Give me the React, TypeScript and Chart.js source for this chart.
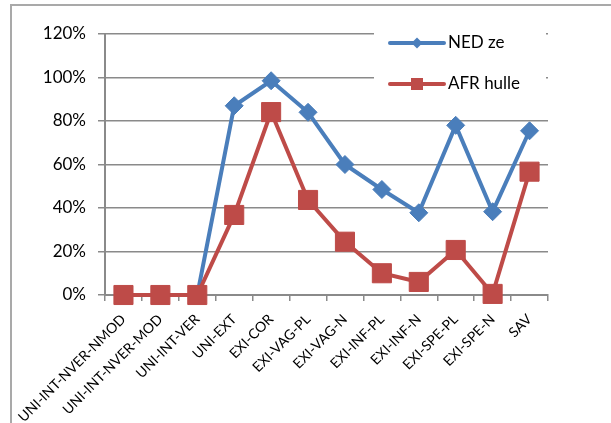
import React, { useEffect, useRef } from "react";
import { Chart, registerables } from "chart.js";

Chart.register(...registerables);

const categories = [
  "UNI-INT-NVER-NMOD",
  "UNI-INT-NVER-MOD",
  "UNI-INT-VER",
  "UNI-EXT",
  "EXI-COR",
  "EXI-VAG-PL",
  "EXI-VAG-N",
  "EXI-INF-PL",
  "EXI-INF-N",
  "EXI-SPE-PL",
  "EXI-SPE-N",
  "SAV",
];
const nedZe = [0, 0, 0, 0.87, 0.985, 0.84, 0.6, 0.485, 0.378, 0.78, 0.383, 0.755];
const afrHulle = [0, 0, 0, 0.368, 0.841, 0.437, 0.245, 0.1, 0.06, 0.207, 0.005, 0.567];
const seriesNames = ["NED ze", "AFR hulle"];
const yTicks = [0, 0.2, 0.4, 0.6, 0.8, 1.0, 1.2];

const BLUE = "#4A7EBB";
const RED = "#BE4B48";
const GRID = "#8a8a8a";
const FONT = "Lato";

const framePlugin = {
  id: "frame",
  beforeDraw(chart: any) {
    const ctx = chart.ctx;
    ctx.save();
    ctx.fillStyle = "#ffffff";
    ctx.fillRect(0, 0, chart.width, chart.height);
    ctx.strokeStyle = "#a9a9a9";
    ctx.lineWidth = 2;
    ctx.beginPath();
    ctx.moveTo(11, chart.height + 2);
    ctx.lineTo(11, 5);
    ctx.lineTo(chart.width + 2, 5);
    ctx.stroke();
    ctx.restore();
  },
};

const legendPlugin = {
  id: "customLegend",
  afterDraw(chart: any) {
    const ctx = chart.ctx;
    const x0 = 374;
    const y0 = 22;
    ctx.save();
    ctx.fillStyle = "#ffffff";
    ctx.fillRect(x0, y0, 172, 82);
    const items = [
      { ds: chart.data.datasets[0], y: 43 },
      { ds: chart.data.datasets[1], y: 84 },
    ];
    items.forEach((it, i) => {
      const color = it.ds.borderColor;
      ctx.strokeStyle = color;
      ctx.lineWidth = 4;
      ctx.lineCap = "round";
      ctx.beginPath();
      ctx.moveTo(390, it.y);
      ctx.lineTo(444, it.y);
      ctx.stroke();
      ctx.fillStyle = color;
      ctx.beginPath();
      if (i === 0) {
        const r = 5.5;
        ctx.moveTo(417 - r, it.y);
        ctx.lineTo(417, it.y - r);
        ctx.lineTo(417 + r, it.y);
        ctx.lineTo(417, it.y + r);
        ctx.closePath();
      } else {
        ctx.rect(417 - 6, it.y - 6, 12, 12);
      }
      ctx.fill();
      ctx.fillStyle = "#000000";
      ctx.font = `17px ${FONT}`;
      ctx.textAlign = "left";
      ctx.textBaseline = "middle";
      ctx.fillText(it.ds.label, 448, it.y);
    });
    ctx.restore();
  },
};

export default function App() {
  const ref = useRef<HTMLCanvasElement | null>(null);

  useEffect(() => {
    document.body.style.margin = "0";
    const canvas = ref.current;
    if (!canvas) return;
    const chart = new Chart(canvas, {
      type: "line",
      data: {
        labels: categories,
        datasets: [
          {
            label: seriesNames[0],
            data: nedZe,
            borderColor: BLUE,
            backgroundColor: BLUE,
            borderWidth: 4,
            pointStyle: "rectRot",
            pointRadius: 9,
            pointBorderWidth: 1,
            pointBackgroundColor: BLUE,
            pointBorderColor: BLUE,
            tension: 0,
            clip: false as any,
            order: 2,
          },
          {
            label: seriesNames[1],
            data: afrHulle,
            borderColor: RED,
            backgroundColor: RED,
            borderWidth: 4,
            pointStyle: "rect",
            pointRadius: 13.5,
            pointBorderWidth: 1,
            pointBackgroundColor: RED,
            pointBorderColor: RED,
            tension: 0,
            clip: false as any,
            order: 1,
          },
        ],
      },
      options: {
        responsive: false,
        animation: false,
        devicePixelRatio: 1,
        layout: { padding: { left: 0, right: 63, top: 34, bottom: 0 } },
        plugins: {
          legend: { display: false },
          tooltip: { enabled: false },
        },
        scales: {
          x: {
            offset: true,
            grid: {
              offset: true,
              drawOnChartArea: false,
              drawTicks: true,
              tickLength: 6,
              color: GRID,
              lineWidth: 1.5,
            },
            border: { color: GRID, width: 2 },
            ticks: {
              autoSkip: false,
              maxRotation: 45,
              minRotation: 45,
              padding: 10,
              color: "#000000",
              font: { family: FONT, size: 14 },
            },
            afterFit(s: any) {
              s.height = 128;
              s.paddingLeft = 0;
              s.paddingRight = 0;
            },
          },
          y: {
            min: 0,
            max: 1.2,
            afterBuildTicks(s: any) {
              s.ticks = yTicks.map((v) => ({ value: v }));
            },
            grid: {
              color: GRID,
              lineWidth: 1.5,
              tickLength: 7,
            },
            border: { color: GRID, width: 2 },
            ticks: {
              padding: 12,
              color: "#000000",
              font: { family: FONT, size: 17 },
              callback: (v: any) => `${Math.round(Number(v) * 100)}%`,
            },
            afterFit(s: any) {
              s.width = 105;
              s.paddingTop = 0;
              s.paddingBottom = 0;
            },
          },
        },
      },
      plugins: [framePlugin, legendPlugin],
    });
    return () => chart.destroy();
  }, []);

  return (
    <div style={{ position: "fixed", left: 0, top: 0, width: 611, height: 423 }}>
      <canvas ref={ref} width={611} height={423} style={{ display: "block" }} />
    </div>
  );
}
